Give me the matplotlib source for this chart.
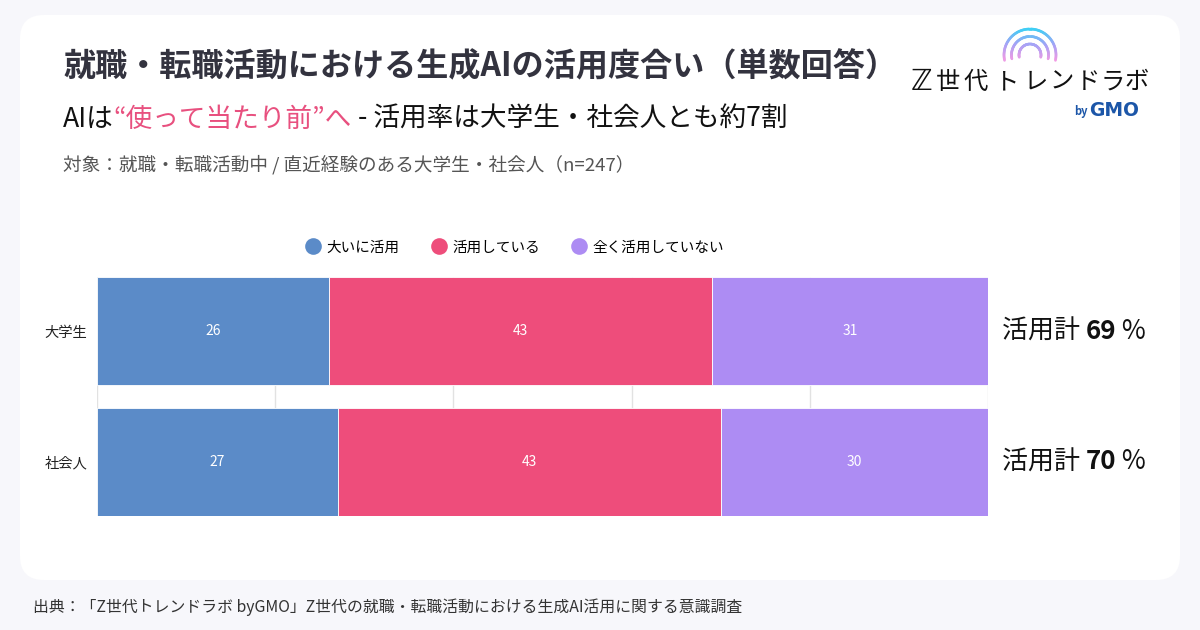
import numpy as np
import matplotlib
matplotlib.use("Agg")
import matplotlib.pyplot as plt
from matplotlib.patches import FancyBboxPatch
from matplotlib.collections import LineCollection
from matplotlib.colors import LinearSegmentedColormap
from matplotlib.lines import Line2D

plt.rcParams['font.family'] = ['Noto Sans CJK JP', 'DejaVu Sans']

# データ
groups = ['大学生', '社会人']
series = ['大いに活用', '活用している', '全く活用していない']
very_much = [26, 27]
using = [43, 43]
not_using = [31, 30]
totals = [69, 70]
colors = ['#5B8BC8', '#EE4D7B', '#AD8CF3']

BG = '#F7F7FB'
DARK = '#33333F'

fig = plt.figure(figsize=(12, 6.3), dpi=100, facecolor=BG)

# 背景用の軸（ピクセル座標）
bg = fig.add_axes([0, 0, 1, 1])
bg.set_xlim(0, 1200)
bg.set_ylim(630, 0)
bg.axis('off')
bg.set_facecolor('none')
card = FancyBboxPatch((20, 15), 1160, 565, boxstyle='round,pad=0,rounding_size=24',
                      facecolor='white', edgecolor='none')
bg.add_patch(card)

# タイトル類
bg.text(63, 67, '就職・転職活動における生成AIの活用度合い（単数回答）', fontsize=23.1,
        fontweight='bold', color=DARK, va='center', ha='left')
t1 = bg.text(63, 119, 'AIは', fontsize=19.2, color='#111111', va='center', ha='left')
t2 = bg.annotate('“使って当たり前”へ', xy=(1, 0), xycoords=t1, fontsize=19.2,
                 color='#E8507F', va='bottom', ha='left')
bg.annotate(' - 活用率は大学生・社会人とも約7割', xy=(1, 0), xycoords=t2, fontsize=19.2,
            color='#111111', va='bottom', ha='left')
bg.text(63, 165, '対象：就職・転職活動中 / 直近経験のある大学生・社会人（n=247）', fontsize=13.4,
        color='#555555', va='center', ha='left')
bg.text(33, 607, '出典：「Z世代トレンドラボ byGMO」Z世代の就職・転職活動における生成AI活用に関する意識調査',
        fontsize=11.4, color='#333333', va='center', ha='left')

# ロゴ
logo_chars = ['世', '代', 'ト', 'レ', 'ン', 'ド', 'ラ', 'ボ']
logo_x = [948, 976, 1007, 1036, 1062, 1088, 1113, 1137]
bg.text(922, 82, 'ℤ', fontsize=21, color='#111111', va='center', ha='center',
        family=['DejaVu Sans'])
for ch, cx in zip(logo_chars, logo_x):
    bg.text(cx, 82, ch, fontsize=17.5, color='#111111', va='center', ha='center')
arc_cmap = LinearSegmentedColormap.from_list('arc', ['#3FCFF5', '#A9A2F6', '#F59BE3'])
for r in [26, 18.5, 11]:
    th = np.linspace(np.radians(-12), np.radians(192), 80)
    xs = 1030 + r * np.cos(th)
    ys = 55 - r * np.sin(th)
    pts = np.array([xs, ys]).T.reshape(-1, 1, 2)
    segs = np.concatenate([pts[:-1], pts[1:]], axis=1)
    lc = LineCollection(segs, cmap=arc_cmap, linewidth=1.9, capstyle='round')
    lc.set_array((ys[:-1] - 29) / 32)
    lc.set_clim(0, 1)
    bg.add_collection(lc)
bg.text(1088, 111, 'by', fontsize=8, color='#1C56A8', va='center', ha='right', fontweight='bold')
bg.text(1089, 110, 'GMO', fontsize=13.5, color='#1C56A8', va='center', ha='left',
        fontweight='heavy', family=['DejaVu Sans'])

# 棒グラフ
ax = fig.add_axes([97 / 1200, (630 - 516) / 630, (988 - 97) / 1200, (516 - 277) / 630])
ax.set_facecolor('white')
y = np.arange(len(groups))
h = 0.83
left = np.zeros(len(groups))
for vals, name, c in zip([very_much, using, not_using], series, colors):
    bars = ax.barh(y, vals, height=h, left=left, color=c, edgecolor='white',
                   linewidth=0.6, label=name, zorder=3)
    ax.bar_label(bars, labels=[str(v) for v in vals], label_type='center',
                 color='white', fontsize=10)
    left += np.array(vals)

ax.set_xlim(0, 100)
ax.set_ylim(1.415, -0.415)
ax.set_yticks(y)
ax.set_yticklabels(groups, fontsize=10.3, color='#222222')
ax.set_xticks([0, 20, 40, 60, 80, 100])
ax.tick_params(axis='x', length=0, labelbottom=False)
ax.tick_params(axis='y', length=0, pad=7)
ax.grid(axis='x', color='#E2E2E2', linewidth=1, zorder=0)
for s in ax.spines.values():
    s.set_visible(False)

for i, tot in enumerate(totals):
    a = ax.annotate('活用計 ', xy=(1, y[i]), xycoords=('axes fraction', 'data'),
                    xytext=(10, 0), textcoords='offset points', fontsize=18.7,
                    color='#111111', va='center', ha='left')
    b = ax.annotate(str(tot), xy=(1, 0), xycoords=a, fontsize=18.7, fontweight='bold',
                    color='#111111', va='bottom', ha='left')
    ax.annotate(' %', xy=(1, 0), xycoords=b, fontsize=18.7, color='#111111',
                va='bottom', ha='left')

# 凡例（丸い記号）
handles = [Line2D([0], [0], marker='o', color='none', markerfacecolor=c,
                  markeredgecolor='none', markersize=12) for c in colors]
ax.legend(handles, series, loc='lower center', bbox_to_anchor=(0.469, 1.04), ncol=3,
          frameon=False, fontsize=10.5, handlelength=1.0, columnspacing=2.2,
          handletextpad=0.4)

fig.savefig('out.png', dpi=100, facecolor=BG)
